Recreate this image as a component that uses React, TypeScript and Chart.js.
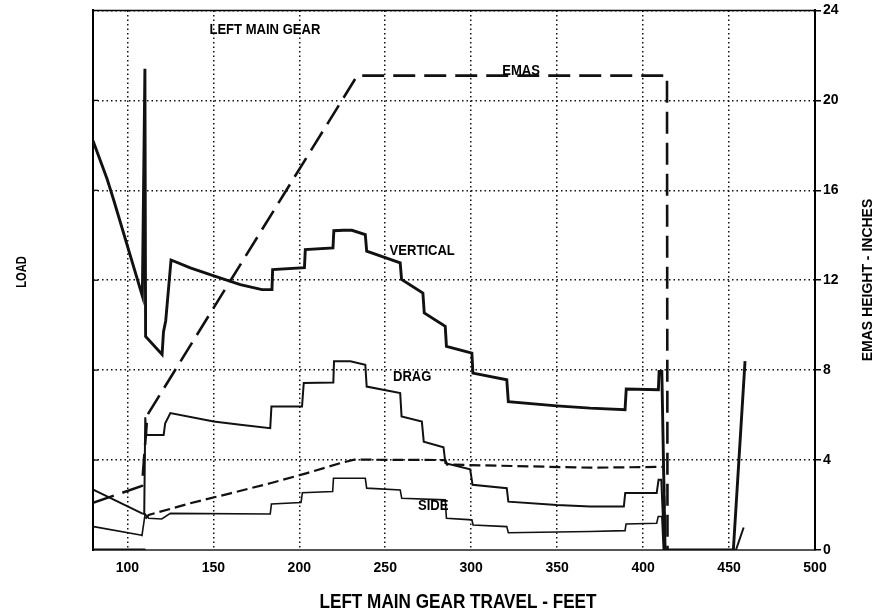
import React, { useEffect, useRef } from "react";
import { Chart, registerables } from "chart.js";
Chart.register(...registerables);

type P = [number, number];

const X_TICKS = [100, 150, 200, 250, 300, 350, 400, 450, 500];
const Y_TICKS = [0, 4, 8, 12, 16, 20, 24];

const VERTICAL: P[] = [
  [80, 18.2], [88.2, 16.5], [91.9, 15.6], [108.7, 11.3], [110.2, 21.4], [110.6, 9.5],
  [120.2, 8.7], [121.0, 9.7], [122.3, 10.2], [125.4, 12.9], [136.6, 12.55], [151.2, 12.17],
  [165.7, 11.8], [178.3, 11.58], [184.1, 11.58], [184.5, 12.47], [203, 12.56], [203.5, 13.36],
  [219.6, 13.44], [220.1, 14.2], [225.8, 14.22], [230.6, 14.22], [238.4, 14.03], [239.2, 13.29],
  [258.7, 12.77], [259.5, 12.03], [271.9, 11.43], [272.7, 10.54], [284.9, 9.95], [285.6, 9.06],
  [300.4, 8.76], [301.0, 7.87], [320.7, 7.57], [321.6, 6.6], [349.8, 6.41], [369.2, 6.31],
  [389.5, 6.24], [390.2, 7.16], [408.9, 7.13], [409.3, 7.94], [410.9, 7.94], [412.8, 0],
  [452.5, 0], [459.3, 8.4],
];

const DRAG: P[] = [
  [80.4, 2.67], [108.5, 1.63], [109.8, 1.6], [110.4, 5.9], [111, 5.13], [121.1, 5.12],
  [122, 5.64], [125, 6.09], [150.2, 5.72], [165.7, 5.57], [183.1, 5.42], [183.8, 6.38],
  [201.6, 6.38], [202.6, 7.43], [219.8, 7.45], [220.2, 8.39], [229.7, 8.39], [238.4, 8.24],
  [239.2, 7.27], [258.7, 6.98], [259.5, 5.94], [271.3, 5.71], [272.4, 4.82], [283.9, 4.57],
  [285, 3.86], [299.4, 3.59], [300.8, 2.9], [320.7, 2.75], [321.6, 2.15], [349.8, 2.0],
  [369.2, 1.93], [388.8, 1.93], [389.6, 2.53], [407.9, 2.53], [409, 3.12], [410.6, 3.12],
  [412.3, 0], [454, 0], [458.5, 1.0],
];

const SIDE: P[] = [
  [80.4, 1.04], [107.6, 0.67], [108.5, 0.65], [110.3, 1.6], [112.4, 1.41], [120, 1.38],
  [125, 1.63], [183.1, 1.6], [183.8, 2.05], [201, 2.11], [201.8, 2.55], [219.4, 2.6],
  [219.9, 3.19], [238.4, 3.19], [239.2, 2.75], [258.7, 2.67], [259.6, 2.3], [284.9, 2.23],
  [285.6, 1.41], [300.4, 1.34], [301.1, 1.11], [320.7, 1.04], [321.6, 0.77], [349.8, 0.8],
  [369.2, 0.82], [389.5, 0.86], [390.1, 1.16], [407.9, 1.19], [408.8, 1.49], [410.9, 1.49],
  [411.8, 0], [453, 0],
];

const EMAS: P[] = [
  [80, 2.1], [108.5, 2.85], [111.6, 6.0], [233.7, 21.1], [413.9, 21.1], [414.2, 0],
];

const DEPTH: P[] = [
  [110.5, 1.4], [112.4, 1.56], [136.6, 2.08], [159.9, 2.52], [183.1, 2.97], [204.5, 3.42],
  [223.8, 3.86], [232, 4.02], [285, 4.0], [286, 3.8], [369.2, 3.66], [412, 3.7], [412.8, 0],
];

const BASE: P[] = [[80, 0], [110.5, 0]];

const LABEL_TEXT = ["LEFT MAIN GEAR", "EMAS", "VERTICAL", "DRAG", "SIDE"];
const LABEL_AT: P[] = [[180, 23.15], [329, 21.3], [271.5, 13.3], [265.7, 7.7], [277.9, 1.96]];

const FONT = "'Liberation Sans', Arial, sans-serif";

const toXY = (a: P[]) => a.map(([x, y]) => ({ x, y }));

function drawText(ctx: CanvasRenderingContext2D, text: string, x: number, y: number, size: number, sx: number, rot = 0) {
  ctx.save();
  ctx.translate(x, y);
  ctx.rotate(rot);
  ctx.scale(sx, 1);
  ctx.font = `bold ${size}px ${FONT}`;
  ctx.textAlign = "center";
  ctx.textBaseline = "middle";
  ctx.fillStyle = "#000";
  ctx.fillText(text, 0, 0);
  ctx.restore();
}

const decor = {
  id: "decor",
  afterDraw(chart: any) {
    const ctx: CanvasRenderingContext2D = chart.ctx;
    const { left, right, top } = chart.chartArea;
    const xs = chart.scales.x;
    const ys = chart.scales.y;
    ctx.save();
    ctx.strokeStyle = "#000";
    ctx.lineWidth = 1.5;
    ctx.beginPath();
    ctx.moveTo(left, top);
    ctx.lineTo(right, top);
    ctx.stroke();
    ctx.lineWidth = 1.2;
    Y_TICKS.slice(1, -1).forEach((v) => {
      const py = ys.getPixelForValue(v);
      ctx.beginPath();
      ctx.moveTo(left, py);
      ctx.lineTo(left + 5, py);
      ctx.stroke();
    });
    ctx.restore();
    LABEL_TEXT.forEach((t, i) => {
      const [vx, vy] = LABEL_AT[i];
      drawText(ctx, t, xs.getPixelForValue(vx), ys.getPixelForValue(vy), 14.5, 0.9);
    });
    drawText(ctx, "LEFT MAIN GEAR TRAVEL - FEET", (left + right) / 2 + 4, 603, 19.5, 0.88);
    drawText(ctx, "LOAD", 22, 272, 14, 0.8, -Math.PI / 2);
    drawText(ctx, "EMAS HEIGHT - INCHES", 868, 280, 14, 1.0, -Math.PI / 2);
  },
};

export default function App() {
  const ref = useRef<HTMLCanvasElement | null>(null);
  useEffect(() => {
    if (!ref.current) return;
    const line = (label: string, pts: P[], w: number, dash: number[] = []) => ({
      label,
      data: toXY(pts),
      borderColor: "#111",
      backgroundColor: "#111",
      borderWidth: w,
      borderDash: dash,
      pointRadius: 0,
      tension: 0,
      fill: false,
      yAxisID: "y",
    });
    const chart = new Chart(ref.current, {
      type: "line",
      data: {
        datasets: [
          line("VERTICAL", VERTICAL, 2.9),
          line("DRAG", DRAG, 2),
          line("SIDE", SIDE, 1.6),
          line("EMAS", EMAS, 2.6, [22, 9]),
          line("DEPTH", DEPTH, 2.2, [11, 5]),
          line("BASE", BASE, 3),
        ],
      },
      options: {
        animation: false,
        responsive: false,
        devicePixelRatio: 1,
        layout: { padding: { top: 10, left: 0, right: 0, bottom: 0 } },
        plugins: { legend: { display: false }, tooltip: { enabled: false } },
        scales: {
          x: {
            type: "linear",
            min: 80,
            max: 500,
            afterBuildTicks: (s: any) => { s.ticks = X_TICKS.map((v) => ({ value: v })); },
            afterFit: (s: any) => { s.height = 65; },
            grid: { color: "#111", lineWidth: 1.5, drawTicks: false },
            border: { display: true, color: "#555", width: 2, dash: [1.5, 3] },
            ticks: { color: "#000", font: { family: FONT, size: 14, weight: "bold" }, padding: 10, maxRotation: 0 },
          },
          y: {
            type: "linear",
            position: "right",
            min: 0,
            max: 24,
            afterBuildTicks: (s: any) => { s.ticks = Y_TICKS.map((v) => ({ value: v })); },
            afterFit: (s: any) => { s.width = 66; },
            grid: { color: "#111", lineWidth: 1.5, drawTicks: true, tickLength: 6, tickColor: "#000", tickWidth: 1.5 },
            border: { display: true, color: "#000", width: 2, dash: [1.5, 3] },
            ticks: { color: "#000", font: { family: FONT, size: 14, weight: "bold" }, padding: 2 },
          },
          yLoad: {
            type: "linear",
            position: "left",
            min: 0,
            max: 24,
            afterFit: (s: any) => { s.width = 93; },
            grid: { drawOnChartArea: false, drawTicks: false },
            border: { display: true, color: "#000", width: 2 },
            ticks: { display: false },
          },
        },
      },
      plugins: [decor],
    });
    return () => chart.destroy();
  }, []);
  return (
    <div style={{ position: "fixed", left: 0, top: 0, width: 881, height: 615, background: "#fff" }}>
      <canvas ref={ref} width={881} height={615} style={{ display: "block" }} />
    </div>
  );
}
